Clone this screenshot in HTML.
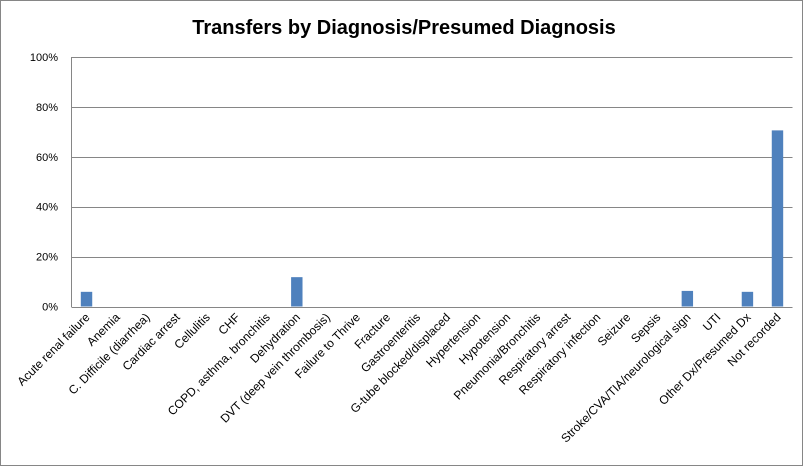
<!DOCTYPE html>
<html><head><meta charset="utf-8"><style>
html,body{margin:0;padding:0;background:#fff}
svg{display:block;font-family:"Liberation Sans",sans-serif}
</style></head><body>
<svg id="chart" width="804" height="467" viewBox="0 0 804 467">
<rect x="0.5" y="0.5" width="802" height="465" fill="#fff" stroke="#868686"/>
<text x="404" y="34" text-anchor="middle" font-size="20" font-weight="bold" fill="#000">Transfers by Diagnosis/Presumed Diagnosis</text>
<g id="grid"></g><g id="bars"></g><g id="xlabels"></g>
</svg>
<script>
const categories=["Acute renal failure","Anemia","C. Difficile (diarrhea)","Cardiac arrest","Cellulitis","CHF","COPD, asthma, bronchitis","Dehydration","DVT (deep vein thrombosis)","Failure to Thrive","Fracture","Gastroenteritis","G-tube blocked/displaced","Hypertension","Hypotension","Pneumonia/Bronchitis","Respiratory arrest","Respiratory infection","Seizure","Sepsis","Stroke/CVA/TIA/neurological sign","UTI","Other Dx/Presumed Dx","Not recorded"];
const values=[5.88,0,0,0,0,0,0,11.76,0,0,0,0,0,0,0,0,0,0,0,0,6.25,0,5.88,70.59];
const yTicks=[0,20,40,60,80,100];
const tickLabels=["0%","20%","40%","60%","80%","100%"];
</script>
<script>
(function(){
const NS="http://www.w3.org/2000/svg";
const L=71.5,R=792.5,T=57,B=306.5;
const n=categories.length;
const bw=(R-L)/n;
const y=v=>B-(v/100)*(B-T);
const x=i=>L+bw*(i+0.5);
const g=document.getElementById('grid'),bg=document.getElementById('bars'),xl=document.getElementById('xlabels');
yTicks.forEach((t,i)=>{
  const ln=document.createElementNS(NS,'line');
  
  
  ln.setAttribute('x1',L);ln.setAttribute('x2',R);
  ln.setAttribute('y1',Math.round(y(t))+0.5);ln.setAttribute('y2',Math.round(y(t))+0.5);
  ln.setAttribute('stroke','#868686');ln.setAttribute('stroke-width','1');
  g.appendChild(ln);
  const tx=document.createElementNS(NS,'text');
  
  
  tx.setAttribute('x',58);tx.setAttribute('y',y(t)+4);
  tx.setAttribute('text-anchor','end');tx.setAttribute('font-size','11');
  tx.textContent=tickLabels[i];
  g.appendChild(tx);
});
const ax=document.createElementNS(NS,'line');


ax.setAttribute('x1',L);ax.setAttribute('x2',L);ax.setAttribute('y1',T);ax.setAttribute('y2',B+0.5);
ax.setAttribute('stroke','#868686');
g.appendChild(ax);
values.forEach((v,i)=>{
  const r=document.createElementNS(NS,'rect');
  
  
  const w=bw*0.38;
  r.setAttribute('x',x(i)-w/2);r.setAttribute('width',w);
  r.setAttribute('y',y(v));r.setAttribute('height',B-y(v));
  r.setAttribute('fill','#4f81bd');
  bg.appendChild(r);
});
categories.forEach((c,i)=>{
  const tx=document.createElementNS(NS,'text');
  
  
  const cx=x(i)+4,cy=318;
  tx.setAttribute('x',cx);tx.setAttribute('y',cy);
  tx.setAttribute('text-anchor','end');tx.setAttribute('font-size','12');
  tx.setAttribute('transform','rotate(-45 '+cx+' '+cy+')');
  tx.textContent=c;
  xl.appendChild(tx);
});
})();
</script>
</body></html>
